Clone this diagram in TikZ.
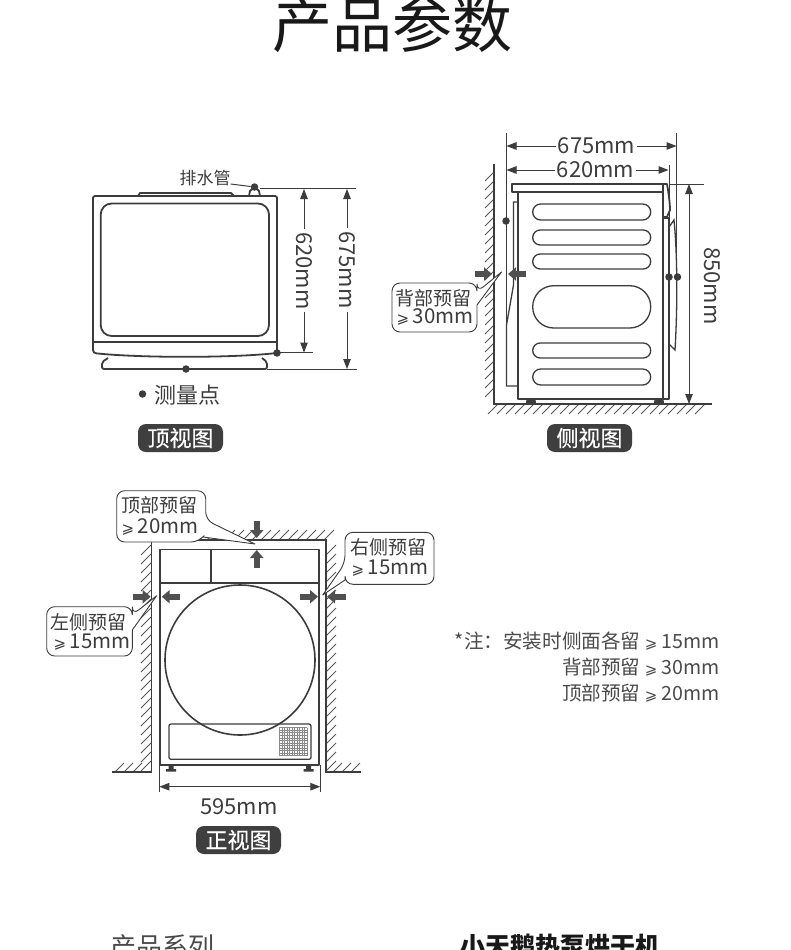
\documentclass[tikz,border=0pt]{standalone}
\usepackage{fontspec}
\setmainfont{Noto Sans CJK SC}
\newfontfamily\symfont{DejaVu Sans}
\newfontfamily\medfont[FakeBold=0.35]{Noto Sans CJK SC}
\usetikzlibrary{arrows.meta}
\definecolor{ink}{HTML}{3C3C3C}
\definecolor{pillc}{HTML}{3F3F3F}
\definecolor{notec}{HTML}{4A4A4A}
\newcommand{\fs}[1]{\fontsize{#1}{#1}\selectfont}
\newcommand{\gs}{{\symfont\fontsize{15}{15}\selectfont ⩾}}
\tikzset{
  body/.style={draw=ink,line width=1.8pt,line join=round},
  thinbody/.style={draw=ink,line width=1.3pt},
  ext/.style={draw=ink,line width=0.8pt},
  hatch/.style={draw=ink!85,line width=0.9pt},
  dimline/.style={draw=ink,line width=1pt,{Triangle[length=10pt,width=7.5pt]}-{Triangle[length=10pt,width=7.5pt]}},
  dimlab/.style={fill=white,inner sep=2pt,text=ink,font=\fs{22}},
  dimlabv/.style={dimlab,rotate=-90},
  blockarrow/.style={draw=ink!90,line width=6pt,-{Triangle[length=8pt,width=13pt]}},
  measdot/.style={circle,fill=ink,inner sep=0pt,minimum size=7.5pt},
  pill/.style={fill=pillc,rounded corners=8pt,text=white,font=\medfont\fs{22},minimum width=85pt,minimum height=28pt,inner sep=0pt},
  callout/.style={draw=ink,line width=0.9pt,fill=white,line join=round},
  calltext/.style={text=ink,font=\fs{19},inner sep=0pt},
  callnum/.style={text=ink,font=\fs{20.5},inner sep=0pt},
  note/.style={text=notec,font=\fs{19.6},anchor=east,inner sep=0pt},
}
\begin{document}
\begin{tikzpicture}[x=1pt,y=-1pt]
\useasboundingbox (0,0) rectangle (790,950);
\clip (0,0) rectangle (790,950);
\fill[white] (0,0) rectangle (790,950);

% headings
\node[text=black!90,font=\fs{60},inner sep=0pt] (title) at (392,25) {产品参数};
\node[text=notec,font=\fs{26},inner sep=0pt] (series) at (162,947) {产品系列};
\node[text=black!90,font=\bfseries\fs{25},inner sep=0pt] (seriesv) at (560,946) {小天鹅热泵烘干机};

%%% TOP VIEW
\draw[body] (138,196) -- (140,193) -- (231,193) -- (234,196);
\draw[body] (249,196) -- (250,191) .. controls (251,188) and (258,188) .. (259,191) -- (260,196);
\draw[body,rounded corners=2pt] (93,342) -- (93,196) -- (277,196) -- (277,342);
\draw[body] (93,342) -- (277,342);
\draw[body,rounded corners=3pt] (93,342) -- (93,353) .. controls (140,358) and (230,358) .. (277,353) -- (277,342);
\draw[body,rounded corners=2pt] (108,358) -- (102,362) -- (102,369) -- (267,369) -- (267,362) -- (262,358);
\draw[body,rounded corners=11pt] (100.7,203.5) rectangle (269,336);
\coordinate (ta) at (304,189);
\coordinate (tb) at (304,352.5);
\coordinate (tc) at (347,189);
\coordinate (td) at (347,369);
\draw[ext] (260,188.5) -- (356,188.5);
\draw[ext] (280,352.5) -- (313,352.5);
\draw[ext] (267,369) -- (357,369);
\draw[dimline] (ta) -- node[dimlabv,pos=0.5,inner sep=3pt] (t620) {620mm} (tb);
\draw[dimline] (tc) -- node[dimlabv,pos=0.45,inner sep=3pt] (t675) {675mm} (td);
\node[measdot] (dpipe) at (254.5,187) {};
\node[measdot] (dfront) at (277,353) {};
\node[measdot] (dbase) at (186,369) {};
\node[text=ink,font=\fs{17},inner sep=0pt] (pipe) at (205,178) {排水管};
\draw[ink,line width=1pt] (pipe.east) ++(0,6) -- (dpipe);
\node[measdot] (dlegend) at (142.5,394) {};
\node[text=ink,font=\fs{22},inner sep=0pt] (legend) at (187.5,395) {测量点};
\node[pill] (pilltop) at (180.5,438) {顶视图};

%%% SIDE VIEW
% wall and floor
\foreach \y in {172,181,...,396} \draw[hatch] (494,\y) -- ++(-9,9);
\foreach \x in {498,507,...,708} \draw[hatch] (\x,404) -- ++(-10,10);
\draw[ink,line width=1.4pt] (494,164) -- (494,404) -- (712,404);
% machine
\draw[body] (512,184) rectangle (663,192);
\draw[body] (518,192) rectangle (663,399);
\draw[body] (663,184) -- (667,184) .. controls (669,195) and (670,205) .. (670,210) -- (667,217) -- (663,217);
\draw[body] (663,218) -- (669,218) -- (669,399) -- (663,399);
\draw[thinbody] (518,202) -- (513.5,202) -- (513.5,285) -- (506.5,325) -- (506.5,386) -- (518,386);
\draw[thinbody] (669,227) -- (674,220) .. controls (677,250) and (678,300) .. (675,350) -- (669,344);
\foreach \t/\b/\r in {204/220/8,230/245/7.5,254/269/7.5,285.7/328/21,343/358/7.5,369/385/8}
  \draw[thinbody,rounded corners=\r pt] (532.7,\t) rectangle (650.7,\b);
\fill[ink] (526.5,399.5) -- (535.5,399.5) -- (536,403) -- (526,403) -- cycle;
\fill[ink] (654.5,399.5) -- (663.5,399.5) -- (664,403) -- (654,403) -- cycle;
% dimensions
\coordinate (sa) at (506.5,146);
\coordinate (sb) at (676.5,146);
\coordinate (sc) at (506.5,170);
\coordinate (sd) at (668.5,170);
\coordinate (se) at (689,184);
\coordinate (sf) at (689,404);
\draw[ext] (506.5,133) -- (506.5,325);
\draw[ext] (676.5,133) -- (676.5,277);
\draw[ext] (669,165) -- (669,277);
\draw[ext] (669,184) -- (704,184);
\draw[dimline] (sa) -- node[dimlab,pos=0.53] (s675) {675mm} (sb);
\draw[dimline] (sc) -- node[dimlab,pos=0.55] (s620) {620mm} (sd);
\draw[dimline] (se) -- (sf);
\node[dimlabv,fill=none] (s850) at (712,286) {850mm};
\node[measdot] (sd1) at (506,221) {};
\node[measdot] (sd2) at (669,277) {};
\node[measdot] (sd3) at (677.5,277) {};
\draw[blockarrow] (475,274) -- (492,274);
\draw[blockarrow] (526,274) -- (508,274);
\draw[callout,rounded corners=8pt] (477,292) [sharp corners] -- (501.5,272) -- (477,305) [rounded corners=8pt] -- (477,332) -- (392,332) -- (392,283) -- (477,283) -- cycle;
\node[calltext] (sc1) at (433,298.5) {背部预留};
\node[callnum] (sc2) at (435,317) {\gs\,30mm};
\node[pill] (pillside) at (589.5,438) {侧视图};

%%% FRONT VIEW
% hatch
\foreach \y in {545,554,...,766} \draw[hatch] (151,\y) -- ++(-10,10);
\foreach \y in {545,554,...,766} \draw[hatch] (336,\y) -- ++(-10,10);
\foreach \x in {172,181,...,335} \draw[hatch] (\x,530) -- ++(-10,10);
\foreach \x in {124,133,...,142} \draw[hatch] (\x,763) -- ++(-9,9);
\foreach \x in {342,351,...,362} \draw[hatch] (\x,763) -- ++(-9,9);
\draw[ink,line width=1.4pt] (112,772) -- (151.7,772) -- (151.7,540) -- (326,540) -- (326,772) -- (360.7,772);
% machine
\draw[body] (160,549.5) rectangle (319.3,765);
\draw[body] (160,582.7) -- (319.3,582.7);
\draw[thinbody] (211,549.5) -- (211,582.7);
\draw[body,line width=1.6pt] (240,660) circle[radius=75];
\draw[thinbody,rounded corners=2pt] (169,724) rectangle (311,759.3);
\foreach \i in {0,1,...,11} {
  \draw[ink!60,line width=0.7pt] (279.3+\i*2.55,727.7) -- (279.3+\i*2.55,755.7);
  \draw[ink!60,line width=0.7pt] (279.3,727.7+\i*2.55) -- (307.3,727.7+\i*2.55);
}
\fill[ink] (168.5,765) rectangle (173.5,769) (166,769) rectangle (176,771.5);
\fill[ink] (306,765) rectangle (311,769) (303.5,769) rectangle (313.5,771.5);
% dimension
\coordinate (fa) at (159.3,786.7);
\coordinate (fb) at (320.3,786.7);
\draw[ext] (159.3,765) -- (159.3,792);
\draw[ext] (320.3,765) -- (320.3,792);
\draw[dimline] (fa) -- (fb);
\node[text=ink,font=\fs{22},inner sep=0pt] (f595) at (239,807) {595mm};
\node[pill] (pillfront) at (238.5,840) {正视图};
% arrows
\draw[blockarrow] (256.7,520.5) -- (256.7,538);
\draw[blockarrow] (256.7,568) -- (256.7,550);
\draw[blockarrow] (132.7,596.7) -- (150.7,596.7);
\draw[blockarrow] (180,596.7) -- (161.7,596.7);
\draw[blockarrow] (300,596.7) -- (318,596.7);
\draw[blockarrow] (345.7,596.7) -- (327,596.7);
% callouts
\draw[callout,rounded corners=8pt] (205.7,520) [sharp corners] -- (255,544) -- (203,537) [rounded corners=8pt] -- (199,542) -- (116.7,542) -- (116.7,490.7) -- (205.7,490.7) -- cycle;
\node[calltext] (fc1) at (159,505.5) {顶部预留};
\node[callnum] (fc2) at (160,526.5) {\gs\,20mm};
\draw[callout,rounded corners=8pt] (345,563.3) [sharp corners] -- (322.7,595) -- (345,580) [rounded corners=8pt] -- (345,584.3) -- (434,584.3) -- (434,532.3) -- (345,532.3) -- cycle;
\node[calltext] (fc3) at (388,547.5) {右侧预留};
\node[callnum] (fc4) at (390,568) {\gs\,15mm};
\draw[callout,rounded corners=8pt] (132.3,615) [sharp corners] -- (156.7,595.7) -- (132.3,630) [rounded corners=8pt] -- (132.3,656) -- (46.7,656) -- (46.7,606.7) -- (132.3,606.7) -- cycle;
\node[calltext] (fc5) at (88.5,622) {左侧预留};
\node[callnum] (fc6) at (92,642.5) {\gs\,15mm};

%%% NOTES
\node[note] (n1) at (720,641.5) {*注：安装时侧面各留 \gs\ 15mm};
\node[note] (n2) at (720,667.5) {背部预留 \gs\ 30mm};
\node[note] (n3) at (720,693.5) {顶部预留 \gs\ 20mm};
\end{tikzpicture}
\end{document}
